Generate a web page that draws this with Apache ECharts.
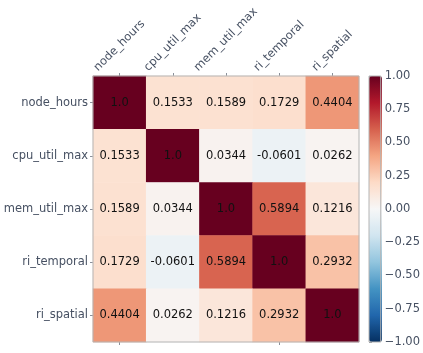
<!DOCTYPE html>
<html><head><meta charset="utf-8">
<script src="https://cdn.jsdelivr.net/npm/echarts@6/dist/echarts.min.js"></script>
<style>html,body{margin:0;padding:0;background:#fff}#c{width:423px;height:353px}</style>
</head><body><div id="c"></div>
<script>
const variables = ['node_hours', 'cpu_util_max', 'mem_util_max', 'ri_temporal', 'ri_spatial'];
const row_node_hours   = [1.0, 0.1533, 0.1589, 0.1729, 0.4404];
const row_cpu_util_max = [0.1533, 1.0, 0.0344, -0.0601, 0.0262];
const row_mem_util_max = [0.1589, 0.0344, 1.0, 0.5894, 0.1216];
const row_ri_temporal  = [0.1729, -0.0601, 0.5894, 1.0, 0.2932];
const row_ri_spatial   = [0.4404, 0.0262, 0.1216, 0.2932, 1.0];
const colorbarMin = -1, colorbarMax = 1, colorbarStep = 0.25;
const rdbu_r = ['#053061','#2166ac','#4393c3','#92c5de','#d1e5f0','#f7f7f7','#fddbc7','#f4a582','#d6604d','#b2182b','#67001f'];

const rows = [row_node_hours, row_cpu_util_max, row_mem_util_max, row_ri_temporal, row_ri_spatial];
const data = [];
rows.forEach((r, yi) => r.forEach((v, xi) => data.push([xi, yi, v])));

const FONT = 'DejaVu Sans';
const FS = 11.5;
const TXT = '#465062';
const TICK = '#8a909a';

const cv = document.createElement('canvas').getContext('2d');
cv.font = FS + 'px "' + FONT + '"';
const widths = variables.map(s => cv.measureText(s).width);
const wmin = Math.min(...widths);
const rich = {};
variables.forEach((s, i) => {
  const p = (widths[i] - wmin) / 2;
  rich['r' + i] = { padding: [0, 0, p, p], fontFamily: FONT, fontSize: FS, color: TXT };
});

const chart = echarts.init(document.getElementById('c'), null, { renderer: 'canvas' });
chart.setOption({
  animation: false,
  backgroundColor: '#ffffff',
  textStyle: { fontFamily: FONT },
  grid: [
    { left: 93, top: 76, width: 266, height: 266, show: true, borderColor: '#b4b4b4', borderWidth: 1, backgroundColor: 'transparent', z: 5 },
    { left: 369, top: 76, width: 13, height: 266, show: true, borderColor: '#b4b4b4', borderWidth: 1, backgroundColor: 'transparent', z: 6 }
  ],
  xAxis: [
    {
      type: 'category', data: variables, position: 'top', gridIndex: 0,
      axisLine: { show: false },
      axisTick: { show: true, alignWithLabel: true, length: 3, lineStyle: { color: TICK } },
      splitLine: { show: false },
      axisLabel: {
        rotate: -45, align: 'center', verticalAlign: 'middle', margin: 25, interval: 0,
        fontFamily: FONT, fontSize: FS, color: TXT,
        formatter: (v, i) => '{r' + i + '|' + v + '}', rich: rich
      }
    },
    { type: 'value', gridIndex: 1, show: false, min: 0, max: 1 },
    {
      type: 'category', data: variables, position: 'bottom', gridIndex: 0,
      axisLine: { show: false },
      axisTick: { show: true, alignWithLabel: true, length: 3, lineStyle: { color: TICK } },
      splitLine: { show: false },
      axisLabel: { show: false }
    }
  ],
  yAxis: [
    {
      type: 'category', data: variables, inverse: true, gridIndex: 0,
      axisLine: { show: false },
      axisTick: { show: true, alignWithLabel: true, length: 3, lineStyle: { color: TICK } },
      splitLine: { show: false },
      axisLabel: { fontFamily: FONT, fontSize: FS, color: TXT, margin: 5, interval: 0 }
    },
    {
      type: 'value', gridIndex: 1, position: 'right',
      min: colorbarMin, max: colorbarMax, interval: colorbarStep,
      axisLine: { show: false },
      splitLine: { show: false },
      axisTick: { show: true, length: 3, lineStyle: { color: TICK } },
      axisLabel: {
        fontFamily: FONT, fontSize: FS, color: TXT, margin: 4,
        formatter: v => (v < 0 ? '\u2212' : '') + Math.abs(v).toFixed(2)
      }
    }
  ],
  visualMap: {
    type: 'continuous', min: colorbarMin, max: colorbarMax, calculable: false,
    orient: 'vertical', left: 369, top: 76, itemWidth: 13, itemHeight: 266,
    padding: 0, text: null, showLabel: false, seriesIndex: 0,
    inRange: { color: rdbu_r }, z: 4
  },
  series: [{
    type: 'heatmap', xAxisIndex: 0, yAxisIndex: 0, data: data,
    itemStyle: { borderWidth: 0 },
    emphasis: { disabled: true },
    label: {
      show: true, fontFamily: FONT, fontSize: FS, color: '#111111',
      formatter: p => { const v = p.value[2]; return v === 1 ? '1.0' : v.toFixed(4); }
    }
  }]
});
</script></body></html>
